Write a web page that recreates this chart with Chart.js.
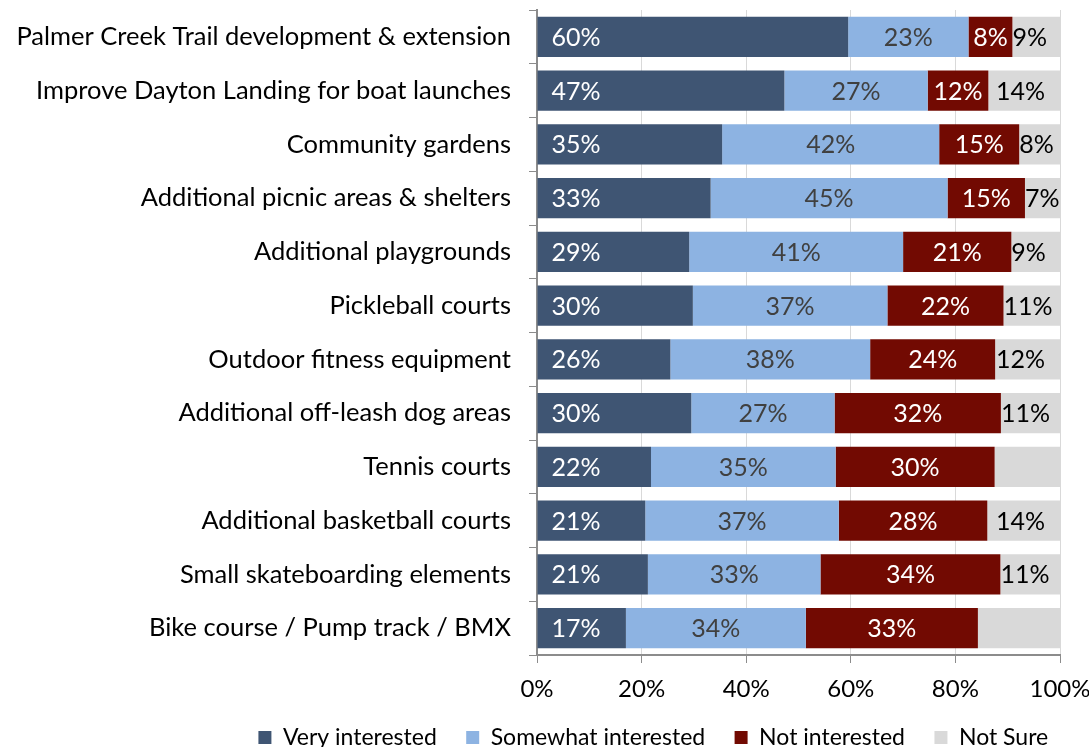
<!DOCTYPE html>
<html>
<head>
<meta charset="utf-8">
<script src="https://cdn.jsdelivr.net/npm/chart.js@4/dist/chart.umd.min.js"></script>
<style>
  html, body { margin: 0; padding: 0; background: #fff; overflow: hidden; }
  #wrap { width: 1089px; height: 747px; }
</style>
</head>
<body>
<div id="wrap"><canvas id="chart"></canvas></div>
<script>
// Categories and shares (percent of respondents)
const categories = [
  'Palmer Creek Trail development & extension',
  'Improve Dayton Landing for boat launches',
  'Community gardens',
  'Additional picnic areas & shelters',
  'Additional playgrounds',
  'Pickleball courts',
  'Outdoor fitness equipment',
  'Additional off-leash dog areas',
  'Tennis courts',
  'Additional basketball courts',
  'Small skateboarding elements',
  'Bike course / Pump track / BMX'
];
const veryInterested     = [59.5, 47.3, 35.4, 33.2, 29.1, 29.8, 25.5, 29.5, 21.8, 20.7, 21.2, 17.0];
const somewhatInterested = [23.0, 27.4, 41.5, 45.3, 40.9, 37.2, 38.2, 27.4, 35.3, 37.0, 33.0, 34.4];
const notInterested      = [8.4, 11.6, 15.3, 14.8, 20.7, 22.2, 23.9, 31.8, 30.4, 28.4, 34.4, 32.9];
const notSure            = [9.1, 13.7, 7.8, 6.7, 9.3, 10.8, 12.4, 11.3, 12.5, 13.9, 11.4, 15.7];
// rows where the "Not Sure" value has no label in the original
const noNotSureLabel = [8, 11];
const xTicks = [0, 20, 40, 60, 80, 100];

const FONT = 'Lato, "Open Sans", sans-serif';

const segLabels = {
  id: 'segLabels',
  afterDatasetsDraw(chart) {
    const ctx = chart.ctx;
    ctx.save();
    ctx.font = '25px ' + FONT;
    ctx.textBaseline = 'middle';
    ctx.textAlign = 'center';
    chart.data.datasets.forEach((ds, di) => {
      const meta = chart.getDatasetMeta(di);
      meta.data.forEach((bar, i) => {
        if (di === 3 && noNotSureLabel.includes(i)) return;
        const txt = Math.round(ds.data[i]) + '%';
        const w = ctx.measureText(txt).width;
        const left = Math.min(bar.x, bar.base), right = Math.max(bar.x, bar.base);
        let cx = (left + right) / 2;
        if (di === 0) {
          cx = left + 14 + w / 2;
        } else if (di === 3) {
          cx = Math.min(cx, right - 15 - w / 2);
          cx = Math.max(cx, left + w / 2);
        }
        ctx.fillStyle = ds.labelColor;
        ctx.fillText(txt, cx, bar.y + 1);
      });
    });
    ctx.restore();
  }
};

const ctx = document.getElementById('chart').getContext('2d');
new Chart(ctx, {
  type: 'bar',
  data: {
    labels: categories,
    datasets: [
      { label: 'Very interested', data: veryInterested, backgroundColor: '#3f5573', labelColor: '#ffffff' },
      { label: 'Somewhat interested', data: somewhatInterested, backgroundColor: '#8db3e2', labelColor: '#404040' },
      { label: 'Not interested', data: notInterested, backgroundColor: '#720a02', labelColor: '#ffffff' },
      { label: 'Not Sure', data: notSure, backgroundColor: '#d9d9d9', labelColor: '#000000' }
    ]
  },
  options: {
    indexAxis: 'y',
    responsive: true,
    maintainAspectRatio: false,
    animation: false,
    datasets: { bar: { categoryPercentage: 0.745, barPercentage: 1.0, borderWidth: 0 } },
    layout: { padding: { top: 10, right: 29, left: 0, bottom: -12 } },
    plugins: {
      tooltip: { enabled: false },
      legend: {
        position: 'bottom',
        align: 'end',
        labels: {
          font: { family: FONT, size: 23, lineHeight: 1 },
          color: '#000',
          boxWidth: 13,
          boxHeight: 13,
          padding: 0,
          // widen the gap between legend entries (Chart.js uses one padding for both directions)
          generateLabels(chart) {
            const items = Chart.defaults.plugins.legend.labels.generateLabels(chart);
            items.forEach((it, i) => { it.text += (i < items.length - 1) ? '     ' : '  '; });
            return items;
          }
        }
      }
    },
    scales: {
      x: {
        stacked: true,
        min: 0,
        max: 100,
        afterBuildTicks(scale) { scale.ticks = xTicks.map(v => ({ value: v })); },
        afterFit(scale) { scale.height = 71; scale.paddingLeft = 0; scale.paddingRight = 0; },
        grid: { color: '#d9d9d9', lineWidth: 1, tickLength: 8, tickColor: '#8c8c8c' },
        border: { color: '#8c8c8c', width: 2 },
        ticks: {
          font: { family: FONT, size: 24 },
          color: '#000',
          padding: 12,
          maxRotation: 0,
          callback: v => v + '%'
        }
      },
      y: {
        stacked: true,
        afterFit(scale) { scale.width = 537; scale.paddingTop = 0; scale.paddingBottom = 0; },
        grid: { drawOnChartArea: false, tickLength: 8, tickColor: '#8c8c8c', offset: true },
        border: { color: '#8c8c8c', width: 2 },
        ticks: {
          font: { family: FONT, size: 25.5 },
          color: '#000',
          padding: 18
        }
      }
    }
  },
  plugins: [segLabels]
});
</script>
</body>
</html>
